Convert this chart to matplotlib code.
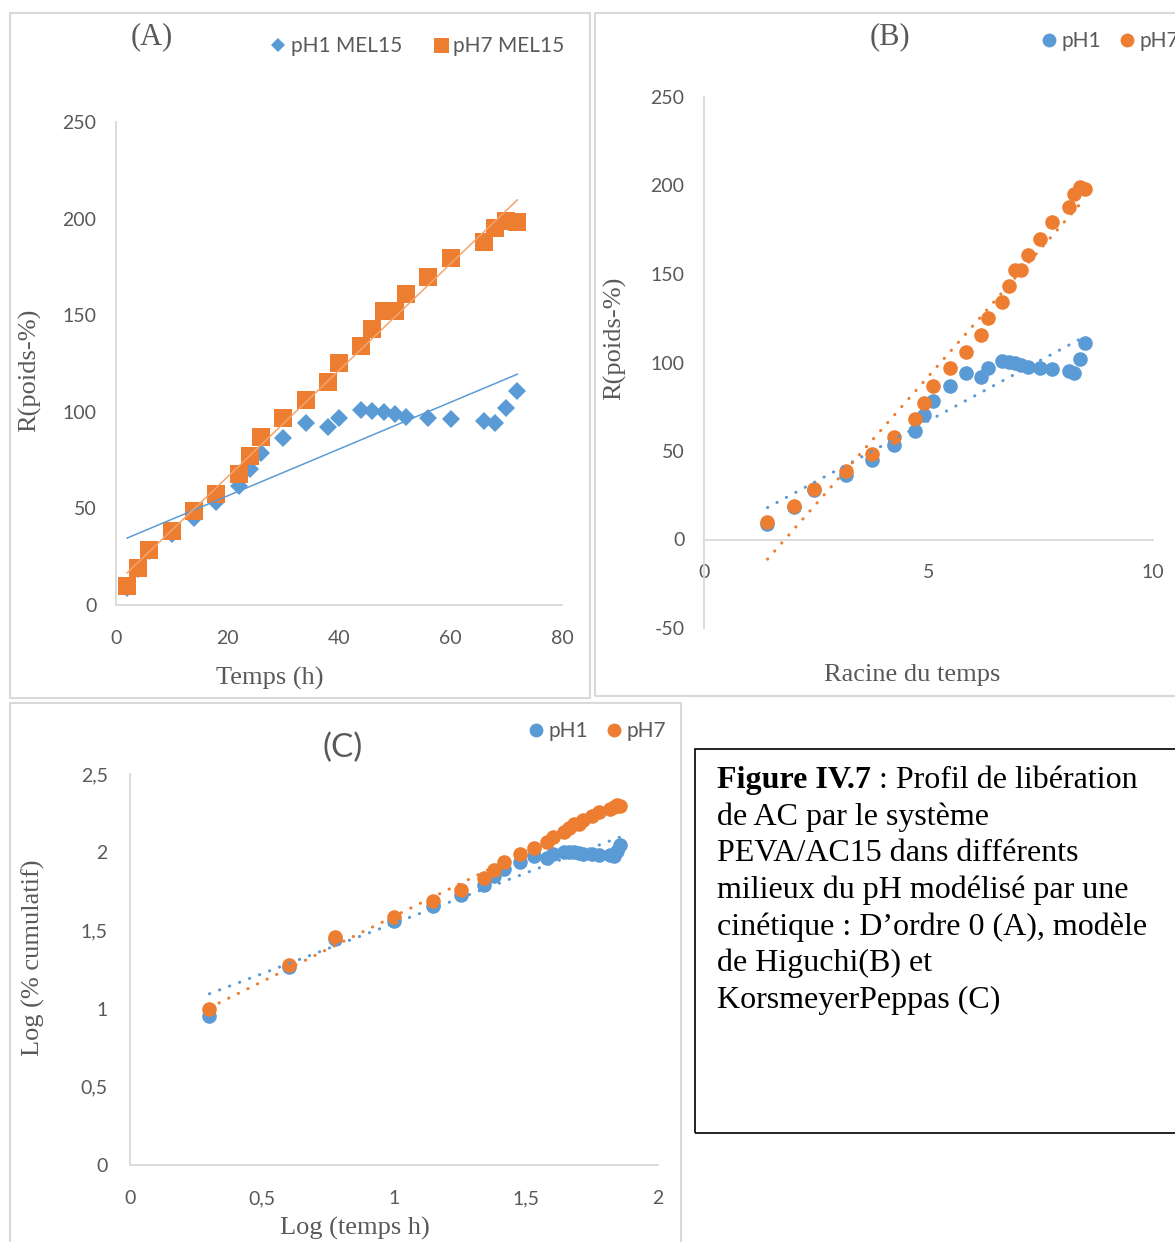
import numpy as np
import matplotlib
matplotlib.use('Agg')
import matplotlib.pyplot as plt
from matplotlib.patches import Rectangle

# ---------------- data ----------------
time_h = [2, 4, 6, 10, 14, 18, 22, 24, 26, 30, 34, 38, 40, 44, 46, 48, 50, 52, 56, 60, 66, 68, 70, 72]
r_ph1 = [9, 18.5, 28, 36.5, 45, 53.5, 61.5, 70.5, 78.5, 86.5, 94, 92, 97, 101, 100.5, 100,
         98.7, 97.5, 97, 96.5, 95.3, 94, 102, 111]
r_ph7 = [10, 19, 28.5, 38.5, 48.5, 57.7, 68, 77, 86.7, 97, 106, 115.5, 125, 134, 143, 152,
         152, 161, 170, 179.6, 188, 195, 199, 198]

a_xticks = [0, 20, 40, 60, 80]
a_yticks = [0, 50, 100, 150, 200, 250]
b_xticks = [0, 5, 10]
b_yticks = [-50, 0, 50, 100, 150, 200, 250]
c_xticks = [0, 0.5, 1, 1.5, 2]
c_xticklabels = ['0', '0,5', '1', '1,5', '2']
c_yticks = [0, 0.5, 1, 1.5, 2, 2.5]
c_yticklabels = ['0', '0,5', '1', '1,5', '2', '2,5']

caption_bold = "Figure IV.7"
caption_rest = ": Profil de libération"
caption_lines = ["de AC par le système",
                 "PEVA/AC15 dans différents",
                 "milieux du pH modélisé par une",
                 "cinétique : D\u2019ordre 0 (A), modèle",
                 "de Higuchi(B) et",
                 "KorsmeyerPeppas (C)"]

# ---------------- style ----------------
W, H = 1175, 1242
BLUE = '#5B9BD5'
ORANGE = '#ED7D31'
GRAY = '#595959'
AXC = '#D9D9D9'
SERIF = 'Liberation Serif'
plt.rcParams['font.family'] = ['Lato', 'DejaVu Sans']
plt.rcParams['axes.unicode_minus'] = False

fig = plt.figure(figsize=(W / 100, H / 100), dpi=100)
fig.patch.set_facecolor('white')


def px_axes(l, t, r, b):
    return fig.add_axes([l / W, 1 - b / H, (r - l) / W, (b - t) / H])


def frame(l, t, r, b, color=AXC, lw=1.5):
    fig.add_artist(Rectangle((l / W, 1 - b / H), (r - l) / W, (b - t) / H,
                             transform=fig.transFigure, fill=False,
                             edgecolor=color, lw=lw))


def ftext(x, y, s, **kw):
    return fig.text(x / W, 1 - y / H, s, **kw)


def style_axes(ax):
    for s in ['top', 'right']:
        ax.spines[s].set_visible(False)
    for s in ['left', 'bottom']:
        ax.spines[s].set_color(AXC)
        ax.spines[s].set_linewidth(1.3)
    ax.tick_params(length=0, labelsize=14, colors=GRAY)
    ax.patch.set_alpha(0)


def legend(ax, handles, labels, x, y, scale, colsp):
    lg = ax.legend(handles, labels, loc='center left',
                   bbox_to_anchor=(x / W, 1 - y / H), bbox_transform=fig.transFigure,
                   ncol=2, frameon=False, handlelength=0.7, handletextpad=0.25,
                   columnspacing=colsp, borderpad=0, borderaxespad=0,
                   markerscale=scale, prop={'family': 'Lato', 'size': 15})
    for t in lg.get_texts():
        t.set_color(GRAY)


dotted = (0, (0.1, 3.4))

# frames
frame(10, 13, 590, 698)
frame(595, 13, 1185, 696)
frame(10, 703, 681, 1260)

t = np.array(time_h, dtype=float)
p1 = np.array(r_ph1, dtype=float)
p7 = np.array(r_ph7, dtype=float)

# ---------------- Panel A ----------------
axA = px_axes(116, 122, 562, 605)
style_axes(axA)
axA.set_xlim(0, 80)
axA.set_ylim(0, 250)
axA.set_xticks(a_xticks)
axA.set_yticks(a_yticks)
axA.tick_params(axis='y', pad=14)
axA.tick_params(axis='x', pad=18)
hA1, = axA.plot(t, p1, 'D', color=BLUE, ms=9, mew=0, clip_on=False, zorder=3)
hA7, = axA.plot(t, p7, 's', color=ORANGE, ms=13.5, mew=0, clip_on=False, zorder=4)
xs = np.array([t.min(), t.max()])
for y, c in [(p1, BLUE), (p7, '#F4A46C')]:
    k, b0 = np.polyfit(t, y, 1)
    axA.plot(xs, k * xs + b0, '-', color=c, lw=1.1, zorder=5)
legend(axA, [hA1, hA7], ['pH1 MEL15', 'pH7 MEL15'], 271, 46, 0.8, 1.5)
ftext(152, 37, '(A)', ha='center', va='center', fontsize=22, family=SERIF, color=GRAY)
ftext(270, 678, 'Temps (h)', ha='center', va='center', fontsize=19, family=SERIF, color=GRAY)
ftext(30, 370, 'R(poids-%)', ha='center', va='center', rotation=90, fontsize=19,
      family=SERIF, color=GRAY)

# ---------------- Panel B ----------------
axB = px_axes(704, 97, 1153, 628)
style_axes(axB)
axB.set_xlim(0, 10)
axB.set_ylim(-50, 250)
axB.spines['bottom'].set_position(('data', 0))
axB.set_xticks(b_xticks)
axB.set_yticks(b_yticks)
axB.tick_params(axis='y', pad=14)
axB.tick_params(axis='x', pad=18)
st = np.sqrt(t)
hB1, = axB.plot(st, p1, 'o', color=BLUE, ms=10.5, mew=0, clip_on=False, zorder=3)
hB7, = axB.plot(st, p7, 'o', color=ORANGE, ms=10.5, mew=0, clip_on=False, zorder=4)
xs = np.array([st.min(), st.max()])
for y, c in [(p1, BLUE), (p7, ORANGE)]:
    k, b0 = np.polyfit(st, y, 1)
    axB.plot(xs, k * xs + b0, color=c, lw=2.2, ls=dotted, dash_capstyle='round', zorder=5)
legend(axB, [hB1, hB7], ['pH1', 'pH7'], 1042, 41, 0.95, 0.9)
ftext(890, 37, '(B)', ha='center', va='center', fontsize=22, family=SERIF, color=GRAY)
ftext(912, 675, 'Racine du temps', ha='center', va='center', fontsize=19, family=SERIF, color=GRAY)
ftext(615, 338, 'R(poids-%)', ha='center', va='center', rotation=90, fontsize=19,
      family=SERIF, color=GRAY)

# ---------------- Panel C ----------------
axC = px_axes(130, 774, 658, 1165)
style_axes(axC)
axC.set_xlim(0, 2)
axC.set_ylim(0, 2.5)
axC.set_xticks(c_xticks)
axC.set_xticklabels(c_xticklabels)
axC.set_yticks(c_yticks)
axC.set_yticklabels(c_yticklabels)
axC.tick_params(axis='y', pad=16)
axC.tick_params(axis='x', pad=18)
lt = np.log10(t)
l1 = np.log10(p1)
l7 = np.log10(p7)
hC1, = axC.plot(lt, l1, 'o', color=BLUE, ms=10.5, mew=0, clip_on=False, zorder=3)
hC7, = axC.plot(lt, l7, 'o', color=ORANGE, ms=10.5, mew=0, clip_on=False, zorder=4)
xs = np.array([lt.min(), lt.max()])
for y, c in [(l1, BLUE), (l7, ORANGE)]:
    k, b0 = np.polyfit(lt, y, 1)
    axC.plot(xs, k * xs + b0, color=c, lw=2.2, ls=dotted, dash_capstyle='round', zorder=5)
legend(axC, [hC1, hC7], ['pH1', 'pH7'], 529, 731, 0.95, 0.9)
ftext(343, 748, '(C)', ha='center', va='center', fontsize=24, color=GRAY)
ftext(355, 1228, 'Log (temps h)', ha='center', va='center', fontsize=19, family=SERIF, color=GRAY)
ftext(33, 958, 'Log (% cumulatif)', ha='center', va='center', rotation=90, fontsize=19,
      family=SERIF, color=GRAY)

# ---------------- caption box ----------------
frame(695, 749, 1185, 1133, color='black', lw=1.2)
base0 = 788
step = 36.7
tb = ftext(717, base0, caption_bold, ha='left', va='baseline', fontsize=23,
           family=SERIF, weight='bold', color='black')
renderer = fig.canvas.get_renderer()
bb = tb.get_window_extent(renderer=renderer)
ftext(bb.x1 + 8, base0, caption_rest, ha='left', va='baseline', fontsize=23,
      family=SERIF, color='black')
for i, line in enumerate(caption_lines):
    ftext(717, base0 + step * (i + 1), line, ha='left', va='baseline', fontsize=23,
          family=SERIF, color='black')

fig.savefig('out.png', dpi=100)
